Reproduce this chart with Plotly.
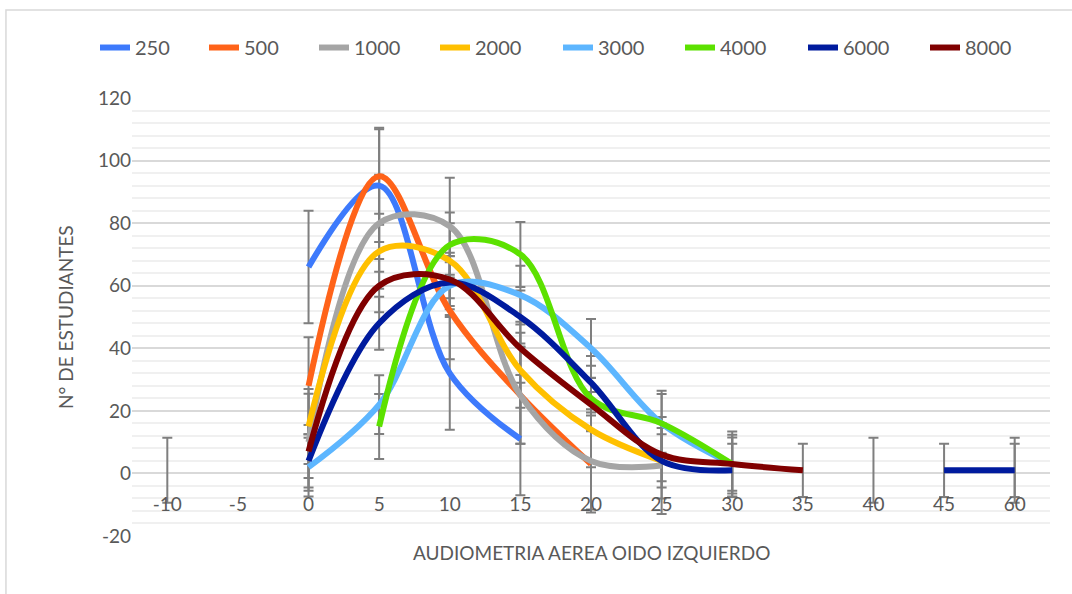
import plotly.graph_objects as go

categories = ["-10", "-5", "0", "5", "10", "15", "20", "25", "30", "35", "40", "45", "60"]
series_names = ["250", "500", "1000", "2000", "3000", "4000", "6000", "8000"]

s250 = [None, None, 66, 92, 32, 11, None, None, None, None, None, None, None]
s500 = [None, None, 28, 95, 52, 25, 3, None, None, None, None, None, None]
s1000 = [None, None, 10, 80, 79, 25, 4, 2.5, None, None, None, None, None]
s2000 = [None, None, 15, 71, 68, 33, 14, 4, None, None, None, None, None]
s3000 = [None, None, 2, 22, 60, 57, 40, 16, 3, None, None, None, None]
s4000 = [1, None, None, 15, 73, 70, 24, 16, 3, None, 1, None, 1]
s6000 = [None, None, 4, 48, 61, 50, 29, 4, 1, None, None, 1, 1]
s8000 = [None, None, 7, 60, 62, 40, 22, 6, 3, 1, None, None, None]

series_values = [s250, s500, s1000, s2000, s3000, s4000, s6000, s8000]
error_amounts = [18, 15.5, 15.5, 12, 9.4, 10.4, 8.5, 8.5]
colors = ["#3D7AFC", "#FF6319", "#A5A5A5", "#FFC000", "#5DB6FF", "#5CE100", "#001B9E", "#800000"]

y_ticks = [-20, 0, 20, 40, 60, 80, 100, 120]
y_tick_labels = ["-20", "0", "20", "40", "60", "80", "100", "120"]

# left edge (px) of each legend box in the container
legend_left_px = [95, 204, 314, 435, 558, 680, 803, 925]

FONT = "Lato"
TXT = "#595959"
W, H = 1072, 594

fig = go.Figure()

# error bars (drawn behind the lines)
for name, vals, err in zip(series_names, series_values, error_amounts):
    fig.add_trace(go.Scatter(
        x=categories, y=vals, mode="markers",
        marker=dict(size=1, opacity=0),
        error_y=dict(type="constant", value=err, color="#7F7F7F", thickness=2, width=5),
        showlegend=False, hoverinfo="skip",
    ))

legend_ids = ["legend"] + [f"legend{i}" for i in range(2, 9)]
for name, vals, col, lid in zip(series_names, series_values, colors, legend_ids):
    fig.add_trace(go.Scatter(
        x=categories, y=vals, mode="lines", name=name,
        line=dict(color=col, width=6, shape="spline", smoothing=1),
        connectgaps=False, legend=lid,
    ))

legend_layouts = {}
for lid, px in zip(legend_ids, legend_left_px):
    legend_layouts[lid] = dict(
        orientation="h", xref="container", yref="container",
        x=px / W, y=0.92, xanchor="left", yanchor="middle",
        font=dict(size=20, color=TXT), itemwidth=30,
        bgcolor="rgba(0,0,0,0)",
    )

fig.update_layout(
    width=W, height=H,
    margin=dict(l=132, r=22, t=98, b=58, autoexpand=False),
    paper_bgcolor="white", plot_bgcolor="white",
    font=dict(family=FONT, size=19, color=TXT),
    xaxis=dict(
        type="category", categoryorder="array", categoryarray=categories,
        range=[-0.5, 12.5], showgrid=False, showline=False, ticks="",
        zeroline=False, anchor="free", position=20 / 140,
        tickfont=dict(size=19, color=TXT), ticklabelstandoff=18,
    ),
    yaxis=dict(
        range=[-20, 120], tickvals=y_ticks, ticktext=y_tick_labels,
        showgrid=True, gridcolor="#D9D9D9",
        gridwidth=1.5, zeroline=False, showline=False, ticks="",
        tickfont=dict(size=19, color=TXT), domain=[0, 1],
        minor=dict(dtick=4, showgrid=True, gridcolor="#F0F0F0", gridwidth=1.5),
    ),
    annotations=[
        dict(text="AUDIOMETRIA AEREA OIDO IZQUIERDO", xref="paper", yref="paper",
             x=0.5, y=-0.037, xanchor="center", yanchor="middle", showarrow=False,
             font=dict(size=19, color=TXT)),
        dict(text="N° DE ESTUDIANTES", xref="paper", yref="paper",
             x=-0.073, y=0.5, xanchor="center", yanchor="middle", showarrow=False,
             textangle=-90, font=dict(size=19, color=TXT)),
    ],
    shapes=[
        dict(type="rect", xref="paper", yref="paper", x0=-0.1373, y0=-0.2, x1=1.05, y1=1.2009,
             line=dict(color="#D9D9D9", width=1.5), layer="below"),
    ],
    **legend_layouts,
)

fig.write_html("out.html")
